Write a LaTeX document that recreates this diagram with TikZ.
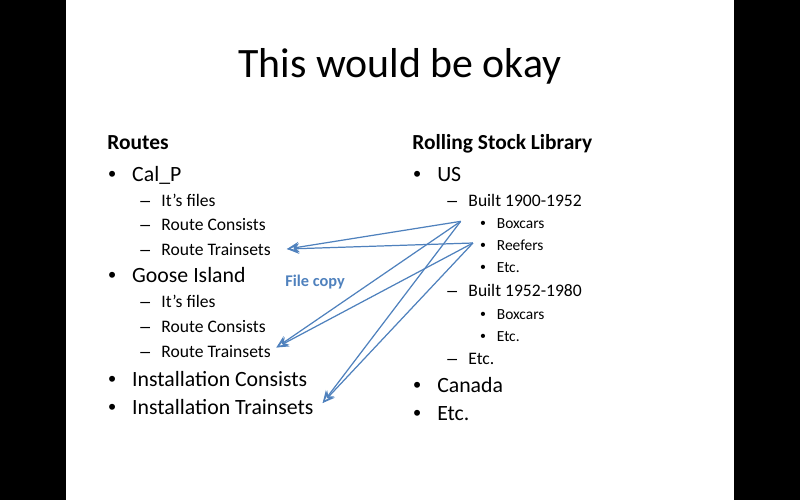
\documentclass[tikz,border=0pt]{standalone}
\usepackage{fontspec}
\setmainfont{Carlito}
\newfontfamily\bulfont{Liberation Sans}
\usetikzlibrary{arrows.meta,positioning}
\definecolor{copyblue}{RGB}{79,129,189}

\newcommand{\lvlbul}{\makebox[13.6pt][l]{\bulfont •}}
\newcommand{\lvldash}{\makebox[12pt][l]{\bulfont –}}
\newcommand{\lvldot}{\makebox[9.4pt][l]{\bulfont •}}

\begin{document}
\begin{tikzpicture}[x=0.02cm,y=-0.02cm,
    every node/.style={anchor=base west,inner sep=0pt},
    slidetitle/.style={anchor=base,font=\fontsize{23.8}{28}\selectfont},
    headtext/.style={font=\fontsize{12.2}{15}\selectfont\bfseries},
    lvlone/.style={font=\fontsize{12.4}{15}\selectfont},
    lvltwo/.style={font=\fontsize{10}{12}\selectfont},
    lvlthree/.style={font=\fontsize{8.8}{11}\selectfont},
    copytext/.style={font=\fontsize{9.3}{11}\selectfont\bfseries,text=copyblue},
    copyarrow/.style={draw=copyblue,line width=0.7pt,-{Stealth[open,length=7pt,width=6pt]}}]

    \useasboundingbox (0,0) rectangle (800,500);

    %%black bars
    \fill[black] (0,0) rectangle (66,500);
    \fill[black] (734,0) rectangle (800,500);

    \node[slidetitle] (title) at (400,77) {This would be okay};

    %%left column
    \node[headtext] (routes) at (107,149) {Routes};
    \node[lvlone] (calp) at (108,181) {\lvlbul Cal\_P};
    \node[lvltwo] (filesA) at (140,206) {\lvldash It’s files};
    \node[lvltwo] (rcA) at (140,230) {\lvldash Route Consists};
    \node[lvltwo] (rtA) at (140,255) {\lvldash Route Trainsets};
    \node[lvlone] (goose) at (108,282) {\lvlbul Goose Island};
    \node[lvltwo] (filesB) at (140,307) {\lvldash It’s files};
    \node[lvltwo] (rcB) at (140,332) {\lvldash Route Consists};
    \node[lvltwo] (rtB) at (140,357) {\lvldash Route Trainsets};
    \node[lvlone] (icons) at (108,386) {\lvlbul Installation Consists};
    \node[lvlone] (itrain) at (108,414) {\lvlbul Installation Trainsets};

    %%right column
    \node[headtext] (rsl) at (412,149) {Rolling Stock Library};
    \node[lvlone] (us) at (413,181) {\lvlbul US};
    \node[lvltwo] (builtA) at (447,206) {\lvldash Built 1900-1952};
    \node[lvlthree] (boxA) at (480,228) {\lvldot Boxcars};
    \node[lvlthree] (reefA) at (480,250) {\lvldot Reefers};
    \node[lvlthree] (etcA) at (480,272) {\lvldot Etc.};
    \node[lvltwo] (builtB) at (447,296) {\lvldash Built 1952-1980};
    \node[lvlthree] (boxB) at (480,319) {\lvldot Boxcars};
    \node[lvlthree] (etcB) at (480,341) {\lvldot Etc.};
    \node[lvltwo] (etcC) at (447,364) {\lvldash Etc.};
    \node[lvlone] (canada) at (413,392) {\lvlbul Canada};
    \node[lvlone] (etcD) at (413,420) {\lvlbul Etc.};

    \node[copytext] (filecopy) at (285,286) {File copy};

    %%arrows
    \coordinate (boxsrc) at ([xshift=-11pt,yshift=1pt]boxA.west);
    \coordinate (reefsrc) at ([xshift=-4pt,yshift=1pt]reefA.west);
    \foreach \src in {boxsrc,reefsrc}{
        \draw[copyarrow] (\src) -- ([xshift=9pt]rtA.east);
        \draw[copyarrow] (\src) -- ([xshift=3pt,yshift=2pt]rtB.east);
        \draw[copyarrow] (\src) -- ([xshift=5pt,yshift=2pt]itrain.east);
    }

\end{tikzpicture}
\end{document}
